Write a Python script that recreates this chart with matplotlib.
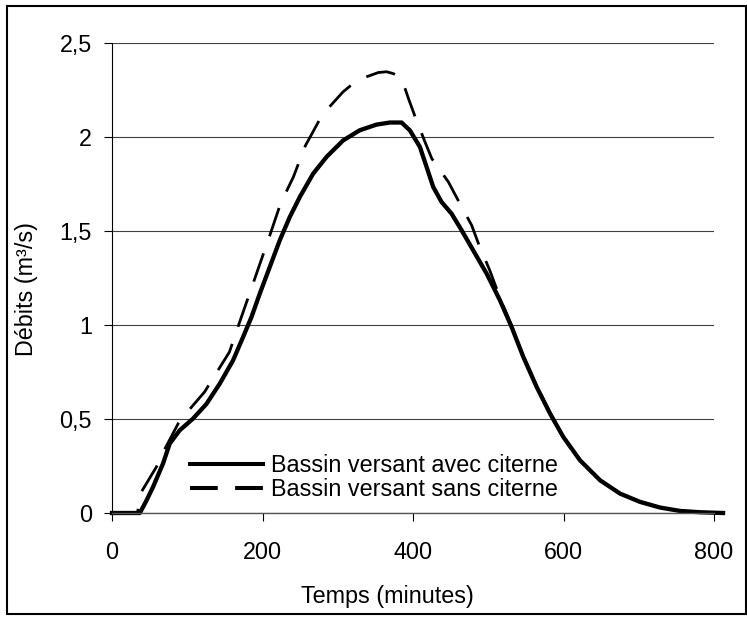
import matplotlib
matplotlib.use("Agg")
import matplotlib.pyplot as plt
from matplotlib.lines import Line2D
from matplotlib.patches import Rectangle

plt.rcParams['font.family'] = ['Liberation Sans', 'DejaVu Sans']
plt.rcParams['lines.scale_dashes'] = False

# Bassin versant avec citerne
t_avec = [0, 37, 45, 54.5, 67.8, 76.7, 90, 107.7, 125.5, 143.2, 160.9, 174.2, 185.4,
          196.4, 209.7, 223, 236.3, 249.6, 267.3, 285.1, 307.2, 329.4, 351.6, 369.3,
          384.8, 395.9, 409.2, 418.1, 426.9, 438, 451.3, 464.6, 480, 497.9, 515.6,
          531.1, 546.6, 564.4, 582.1, 599.8, 622, 648.6, 675.2, 701.8, 728.3, 754.9,
          781.5, 812]
q_avec = [0, 0, 0.06, 0.138, 0.263, 0.369, 0.44, 0.502, 0.58, 0.688, 0.812, 0.936, 1.043,
          1.167, 1.309, 1.451, 1.575, 1.681, 1.805, 1.894, 1.982, 2.036, 2.066, 2.077,
          2.077, 2.035, 1.947, 1.84, 1.734, 1.654, 1.592, 1.504, 1.397, 1.273, 1.131,
          0.989, 0.83, 0.67, 0.529, 0.404, 0.28, 0.174, 0.103, 0.059, 0.029, 0.011,
          0.004, 0.0]

# Bassin versant sans citerne
t_sans = [0, 34, 36, 39, 59, 68, 88, 100, 123, 134, 156, 170, 190, 210, 224, 241, 257,
          267, 279, 293, 307, 323, 338, 354, 365, 374, 385, 394, 403, 416, 425, 447, 460,
          478, 487, 502, 516, 531.1, 546.6, 564.4, 582.1, 599.8, 622, 648.6, 675.2, 701.8,
          728.3, 754.9, 781.5, 812]
q_sans = [0, 0, 0.06, 0.112, 0.245, 0.324, 0.476, 0.537, 0.644, 0.715, 0.856, 1.02, 1.25,
          1.48, 1.646, 1.787, 1.954, 2.027, 2.115, 2.178, 2.24, 2.293, 2.32, 2.343, 2.347,
          2.337, 2.31, 2.204, 2.106, 1.973, 1.885, 1.761, 1.663, 1.53, 1.433, 1.291, 1.14,
          0.995, 0.835, 0.675, 0.532, 0.406, 0.281, 0.175, 0.104, 0.06, 0.029, 0.011,
          0.004, 0.0]

x_ticks = [0, 200, 400, 600, 800]
y_ticks = [0, 0.5, 1, 1.5, 2, 2.5]
y_tick_labels = ['0', '0,5', '1', '1,5', '2', '2,5']
label_avec = 'Bassin versant avec citerne'
label_sans = 'Bassin versant sans citerne'

W, H = 747, 617
fig = plt.figure(figsize=(W / 100, H / 100), dpi=100)
ax = fig.add_axes([112 / W, 1 - 513 / H, (714 - 112) / W, (513 - 43) / H])

FS = 16.8

ax.plot(t_sans, q_sans, color='black', lw=2.0, dashes=(21.5, 13), clip_on=False,
        solid_capstyle='butt', dash_capstyle='butt')
ax.plot(t_avec, q_avec, color='black', lw=3.1, clip_on=False,
        solid_joinstyle='round')

ax.set_xlim(0, 800)
ax.set_ylim(0, 2.5)
ax.set_xticks(x_ticks)
ax.set_yticks(y_ticks)
ax.set_yticklabels(y_tick_labels)
ax.tick_params(axis='both', direction='out', length=5.8, width=0.8, color='black',
               labelsize=FS)
ax.tick_params(axis='x', pad=14.5)
ax.tick_params(axis='y', pad=8.6)
ax.grid(axis='y', color='#404040', lw=0.8)
ax.set_axisbelow(True)
for s in ['top', 'right']:
    ax.spines[s].set_visible(False)
ax.spines['left'].set_color('black')
ax.spines['left'].set_linewidth(0.8)
ax.spines['bottom'].set_color('#555555')
ax.spines['bottom'].set_linewidth(1.0)

fig.text(26 / W, 1 - 289 / H, 'Débits (m³/s)', rotation=90, ha='center', va='center',
         fontsize=FS)
fig.text(387 / W, 1 - 597 / H, 'Temps (minutes)', ha='center', va='center', fontsize=FS)

handles = [Line2D([], [], color='black', lw=2.9),
           Line2D([], [], color='black', lw=2.9, dashes=(20, 12.5))]
leg = ax.legend(handles, [label_avec, label_sans], loc='center left',
                bbox_to_anchor=(190 / W, 1 - 477.5 / H), bbox_transform=fig.transFigure,
                frameon=False, fontsize=FS, handlelength=73 / 23.3, handletextpad=0.33,
                labelspacing=0.07, borderpad=0, borderaxespad=0)

fig.patches.append(Rectangle((7 / W, 1 - 614 / H), (746 - 7) / W, (614 - 6) / H,
                             transform=fig.transFigure, fill=False, edgecolor='black',
                             lw=1.5))

fig.savefig('out.png', dpi=100)
